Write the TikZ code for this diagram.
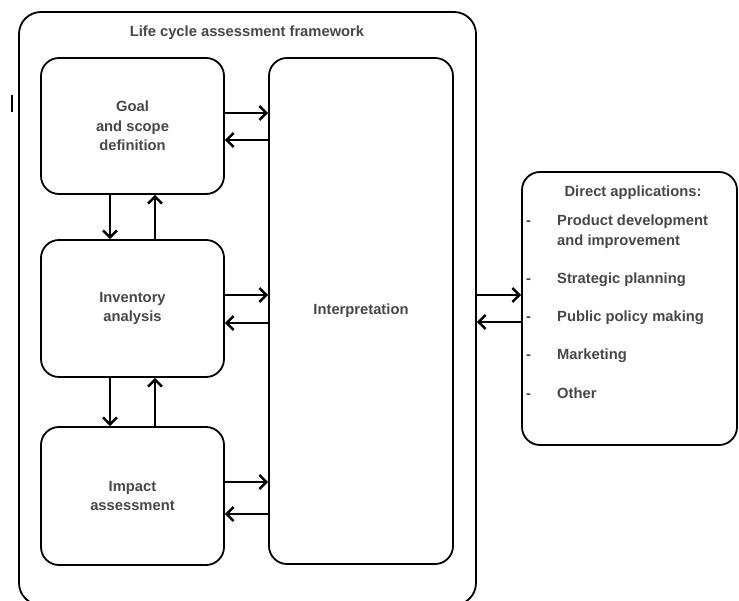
\documentclass[tikz,border=0pt]{standalone}
\usepackage{fontspec}
\setmainfont{Liberation Sans}
\usetikzlibrary{arrows.meta}
\begin{document}
\begin{tikzpicture}[x=1bp,y=-1bp,
 box/.style={draw, line width=1.8bp, rounded corners=18bp, inner sep=0pt,
   font=\fontsize{14.8}{19.5}\selectfont\bfseries, text=black!72, align=center},
 txt/.style={font=\fontsize{14.8}{19.5}\selectfont\bfseries, text=black!72, inner sep=0pt},
 item/.style={txt, anchor=base west},
 arr/.style={line width=2.8bp, -{Straight Barb[length=7bp,width=14bp,line width=2.4bp]}},
]
\useasboundingbox (0,0) rectangle (739,601);
\clip (0,0) rectangle (739,601);
% stray mark at left
\draw[line width=2.4bp] (12,95) -- (12,112);
% outer frame
\node[box, line width=1.8bp, rounded corners=22bp, minimum width=457bp, minimum height=593bp] (frame) at (247.5,308.5) {};
\node[txt] (title) at (247,33) {Life cycle assessment framework};
% inner boxes
\node[box, minimum width=183bp, minimum height=136bp] (goal) at (132.5,126) {Goal\\and scope\\definition};
\node[box, minimum width=183bp, minimum height=137bp] (inv) at (132.5,308.5) {Inventory\\analysis};
\node[box, minimum width=183bp, minimum height=138bp] (imp) at (132.5,496) {Impact\\assessment};
\node[box, minimum width=184bp, minimum height=506bp] (interp) at (361,311) {Interpretation};
% direct applications
\node[box, minimum width=215bp, minimum height=273bp] (direct) at (629.5,308.5) {};
\node[txt] (dtitle) at (633,193) {Direct applications:};
\node[item] (d1) at (526,225) {-};
\node[item] (i1) at (557,225) {Product development};
\node[item] (i1b) at (557,245) {and improvement};
\node[item] (d2) at (526,283) {-};
\node[item] (i2) at (557,283) {Strategic planning};
\node[item] (d3) at (526,321) {-};
\node[item] (i3) at (557,321) {Public policy making};
\node[item] (d4) at (526,359) {-};
\node[item] (i4) at (557,359) {Marketing};
\node[item] (d5) at (526,398) {-};
\node[item] (i5) at (557,398) {Other};
% horizontal arrows to/from interpretation
\draw[arr] ([yshift=13bp]goal.east) -- ([yshift=13bp]goal.east -| interp.west);
\draw[arr] ([yshift=-14bp]goal.east -| interp.west) -- ([yshift=-14bp]goal.east);
\draw[arr] ([yshift=13.5bp]inv.east) -- ([yshift=13.5bp]inv.east -| interp.west);
\draw[arr] ([yshift=-14.5bp]inv.east -| interp.west) -- ([yshift=-14.5bp]inv.east);
\draw[arr] ([yshift=14bp]imp.east) -- ([yshift=14bp]imp.east -| interp.west);
\draw[arr] ([yshift=-18bp]imp.east -| interp.west) -- ([yshift=-18bp]imp.east);
% vertical arrows
\draw[arr] ([xshift=-22.5bp]goal.south) -- ([xshift=-22.5bp]goal.south |- inv.north);
\draw[arr] ([xshift=22.5bp]goal.south |- inv.north) -- ([xshift=22.5bp]goal.south);
\draw[arr] ([xshift=-22.5bp]inv.south) -- ([xshift=-22.5bp]inv.south |- imp.north);
\draw[arr] ([xshift=22.5bp]inv.south |- imp.north) -- ([xshift=22.5bp]inv.south);
% arrows between frame and direct applications
\coordinate (da) at ([yshift=13.5bp]direct.west);
\coordinate (db) at ([yshift=-13.5bp]direct.west);
\draw[arr] (frame.east |- da) -- (da);
\draw[arr] (db) -- (frame.east |- db);
\end{tikzpicture}
\end{document}
